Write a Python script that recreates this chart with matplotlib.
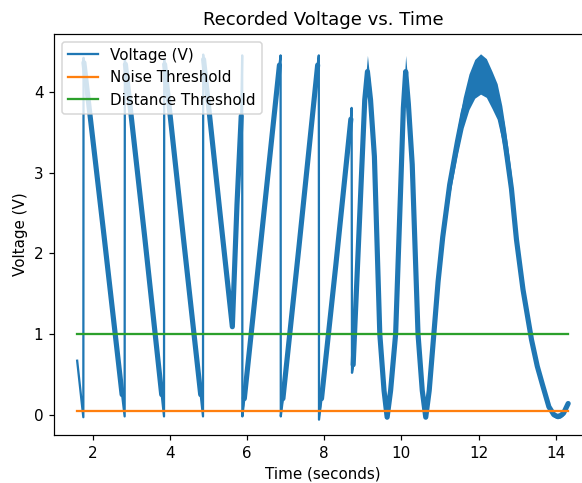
import numpy as np
import matplotlib
matplotlib.use("Agg")
import matplotlib.pyplot as plt

# Recorded trace: knot times (s), centre voltage (V) and ripple half-width (V)
time_s = [
    1.60, 1.76, 1.765,
    1.775, 2.30, 2.764, 2.83, 2.835,
    2.85, 3.35, 3.79, 3.85, 3.855,
    3.865, 4.35, 4.80, 4.86, 4.865,
    4.875, 5.30, 5.62,
    5.74, 5.85, 5.875, 5.88,
    5.93, 6.35, 6.84, 6.87, 6.875,
    6.93, 7.35, 7.83, 7.86, 7.865,
    7.93, 8.30, 8.69, 8.71, 8.72,
    8.75, 8.93, 9.05, 9.12,
    9.20, 9.30, 9.44, 9.55, 9.63, 9.72, 9.85, 9.98, 10.05, 10.11,
    10.18, 10.28, 10.43, 10.54, 10.63,
    10.72, 10.84, 10.95, 11.07, 11.25, 11.45, 11.60, 11.75, 11.90, 12.05,
    12.20, 12.35, 12.48, 12.60, 12.70, 12.85, 12.98, 13.15, 13.37, 13.52,
    13.65, 13.82, 13.95, 14.04, 14.12, 14.20, 14.32,
]
voltage = [
    0.67, -0.03, 4.42,
    4.36, 2.20, 0.25, -0.02, 4.40,
    4.34, 2.20, 0.25, -0.02, 4.40,
    4.34, 2.20, 0.25, -0.02, 4.46,
    4.40, 2.50, 1.09,
    2.60, 3.70, 4.45, -0.02,
    0.20, 2.10, 4.33, 4.45, -0.02,
    0.20, 2.10, 4.33, 4.45, -0.06,
    0.20, 1.85, 3.66, 3.80, 0.52,
    0.62, 2.58, 3.90, 4.25,
    3.90, 3.20, 1.00, 0.30, -0.03, 0.30, 1.00, 2.80, 3.80, 4.25,
    3.85, 3.10, 1.00, 0.30, -0.03,
    0.30, 1.00, 1.65, 2.20, 2.85, 3.38, 3.74, 4.00, 4.16, 4.22,
    4.17, 4.02, 3.88, 3.62, 3.32, 2.80, 2.17, 1.55, 0.93, 0.60,
    0.38, 0.10, 0.00, -0.02, -0.01, 0.02, 0.14,
]
ripple = [
    0.0, 0.0, 0.0,
    0.04, 0.07, 0.02, 0.0, 0.0,
    0.04, 0.07, 0.02, 0.0, 0.0,
    0.04, 0.07, 0.02, 0.0, 0.0,
    0.04, 0.07, 0.02,
    0.06, 0.10, 0.0, 0.0,
    0.02, 0.07, 0.06, 0.0, 0.0,
    0.02, 0.07, 0.06, 0.0, 0.0,
    0.02, 0.07, 0.05, 0.0, 0.0,
    0.03, 0.10, 0.15, 0.20,
    0.17, 0.12, 0.06, 0.03, 0.02, 0.03, 0.06, 0.12, 0.16, 0.20,
    0.17, 0.12, 0.06, 0.03, 0.02,
    0.04, 0.06, 0.08, 0.10, 0.13, 0.16, 0.19, 0.22, 0.24, 0.25,
    0.24, 0.23, 0.22, 0.21, 0.20, 0.17, 0.13, 0.10, 0.07, 0.06,
    0.05, 0.04, 0.03, 0.03, 0.03, 0.03, 0.02,
]

noise_threshold = 0.05
distance_threshold = 1.0

t = np.array(time_s)
v = np.array(voltage)
r = np.array(ripple)
# stretches of the trace that carry ripple are drawn heavier
v_noisy = np.where(r > 0, v, np.nan)

dpi = 109
fig = plt.figure(figsize=(582 / dpi, 483 / dpi), dpi=dpi)
ax = fig.add_axes([54 / 582, 48 / 483, 538.5 / 582, 401 / 483])

ax.plot(t, v, color="C0", lw=1.5, label="Voltage (V)")
ax.plot(t, v_noisy, color="C0", lw=3.4, solid_capstyle="round",
        solid_joinstyle="round")
ax.fill_between(t, v - r, v + r, color="C0", lw=0)
ax.plot([t[0], t[-1]], [noise_threshold] * 2, color="C1", lw=1.5,
        label="Noise Threshold")
ax.plot([t[0], t[-1]], [distance_threshold] * 2, color="C2", lw=1.5,
        label="Distance Threshold")

ax.set_xlim(1.0, 14.95)
ax.set_ylim(-0.25, 4.715)
ax.set_xticks([2, 4, 6, 8, 10, 12, 14])
ax.set_yticks([0, 1, 2, 3, 4])

ax.set_title("Recorded Voltage vs. Time", fontsize=12)
ax.set_xlabel("Time (seconds)")
ax.set_ylabel("Voltage (V)")
ax.legend(loc="upper left")

fig.savefig("out.png", dpi=dpi)
